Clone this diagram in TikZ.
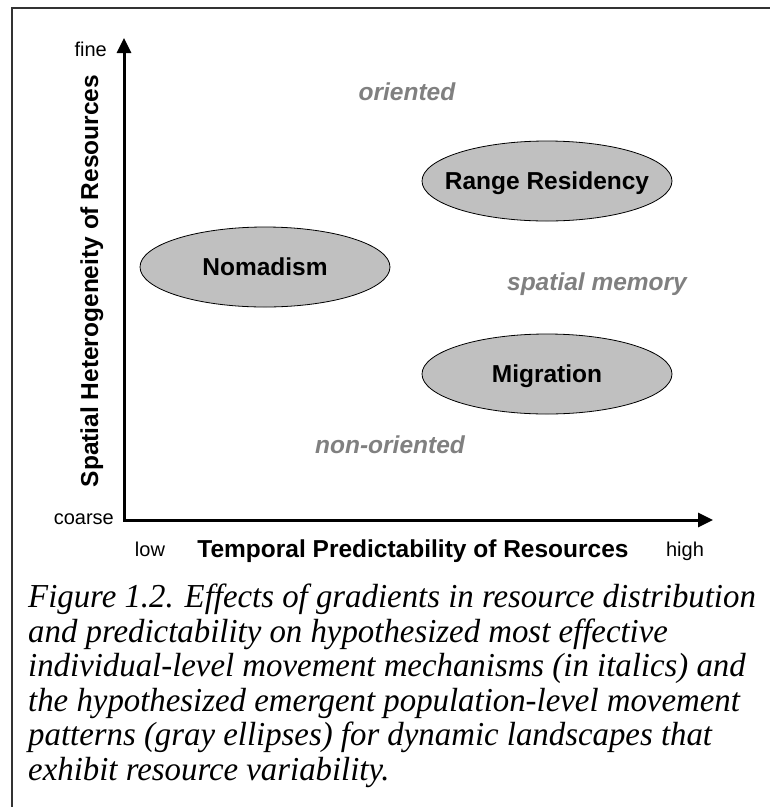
\documentclass[tikz,border=0pt]{standalone}
\usepackage{fontspec}
\setmainfont{Liberation Serif}
\setsansfont{Liberation Sans}
\newfontfamily\capfont[FakeStretch=0.98]{Liberation Serif}
\usetikzlibrary{shapes.geometric,arrows.meta}
\definecolor{ellgray}{HTML}{C0C0C0}
\definecolor{mechgray}{HTML}{808080}

\begin{document}
\begin{tikzpicture}[x=1pt, y=-1pt,
  popnode/.style={ellipse, draw, line width=0.8pt, fill=ellgray, minimum width=250pt, minimum height=80pt,
    inner xsep=-20pt, inner ysep=0pt, text height=17.5pt, text depth=0pt, font=\sffamily\bfseries\fontsize{24.5}{29}\selectfont},
  mechlabel/.style={anchor=base, inner sep=0pt, text=mechgray, font=\sffamily\bfseries\itshape\fontsize{24.5}{29}\selectfont},
  endlabel/.style={inner sep=0pt, font=\sffamily\fontsize{20}{24}\selectfont},
  axistitle/.style={anchor=base, inner sep=0pt, font=\sffamily\bfseries\fontsize{24.5}{29}\selectfont},
  >={Triangle[length=15pt,width=14pt]}]
  \useasboundingbox (0,0) rectangle (770,807);
  \draw[line width=2.5pt, black!80] (12,807) -- (12,8) -- (770,8);

  \coordinate (origin) at (124,520);
  \coordinate (ytip) at (124,38);
  \coordinate (xtip) at (713,520);
  \draw[<->, line width=3pt] (ytip) -- (origin) -- (xtip);

  \node[endlabel, anchor=base east] (fine) at (107,56) {fine};
  \node[endlabel, anchor=base east] (coarse) at (114,524) {coarse};
  \node[endlabel, anchor=base] (low) at (150,556) {low};
  \node[endlabel, anchor=base] (high) at (685,556) {high};
  \node[axistitle] (xtitle) at (413,557) {Temporal Predictability of Resources};
  \node[axistitle, rotate=90] (ytitle) at (98,281) {Spatial Heterogeneity of Resources};

  \node[popnode] (range) at (547,181) {Range Residency};
  \node[popnode] (nomad) at (265,267) {Nomadism};
  \node[popnode] (migr) at (547,374) {Migration};

  \node[mechlabel] (oriented) at (407,100) {oriented};
  \node[mechlabel] (spatmem) at (597,290) {spatial memory};
  \node[mechlabel] (nonoriented) at (390,453) {non-oriented};

  \node[anchor=north west, inner sep=0pt, align=left, font=\capfont\itshape\fontsize{33.5}{34.5}\selectfont] (caption) at (28,584)
    {Figure 1.2. Effects of gradients in resource distribution\\
     and predictability on hypothesized most effective\\
     individual-level movement mechanisms (in italics) and\\
     the hypothesized emergent population-level movement\\
     patterns (gray ellipses) for dynamic landscapes that\\
     exhibit resource variability.};
\end{tikzpicture}
\end{document}
